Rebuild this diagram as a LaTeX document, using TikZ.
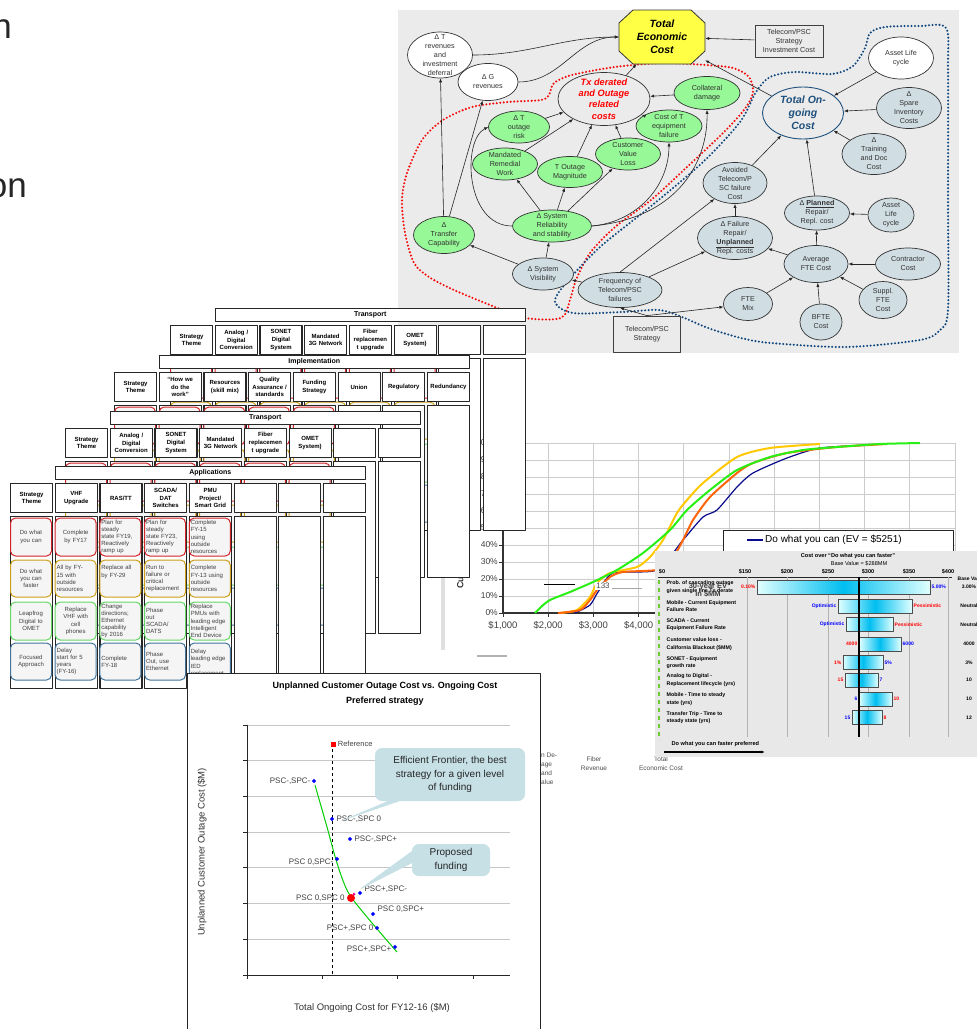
\documentclass[tikz,border=0pt]{standalone}
\usepackage{fontspec}
\setmainfont{Liberation Sans}
\usetikzlibrary{positioning,shapes.geometric,shapes.callouts,arrows.meta}

\definecolor{diagbg}{RGB}{235,235,235}
\definecolor{bubgreen}{RGB}{150,248,150}
\definecolor{bubblue}{RGB}{208,222,228}
\definecolor{octyellow}{RGB}{255,255,70}
\definecolor{ongoblue}{RGB}{30,80,125}
\definecolor{dotblue}{RGB}{15,70,125}
\definecolor{dotred}{RGB}{245,10,10}
\definecolor{rowred}{RGB}{210,35,40}
\definecolor{rowgold}{RGB}{205,158,25}
\definecolor{rowgreen}{RGB}{100,215,100}
\definecolor{rowblue}{RGB}{65,115,155}
\definecolor{callfill}{RGB}{198,224,230}
\definecolor{barcyan}{RGB}{0,190,240}
\definecolor{torgreen}{RGB}{110,200,50}
\definecolor{cdfnavy}{RGB}{10,10,140}
\definecolor{cdforange}{RGB}{255,100,10}
\definecolor{cdfgold}{RGB}{255,200,0}
\definecolor{cdfgreen}{RGB}{40,240,20}

\tikzset{
  bub/.style={ellipse, draw=black!80, line width=0.7pt, inner sep=0pt},
  gbub/.style={bub, fill=bubgreen},
  bbub/.style={bub, fill=bubblue},
  wbub/.style={bub, fill=white},
  bubtxt/.style={align=center, inner sep=0pt, text=black!80,
    font=\fontsize{7.2}{9}\selectfont},
  sqbox/.style={draw=black!75, fill=diagbg, line width=0.8pt, align=center,
    inner sep=1pt, text=black!80, font=\fontsize{7.2}{9}\selectfont},
  arr/.style={-{Latex[length=4pt,width=3.2pt]}, line width=0.6pt, black!85},
  dotline/.style={line width=2.3pt, line cap=round, dash pattern=on 0pt off 3.5pt},
  laybox/.style={draw=black!85, fill=white, line width=1.1pt, inner sep=1pt},
  layhd/.style={font=\fontsize{7}{8}\selectfont\bfseries},
  colhd/.style={minimum width=42pt, minimum height=29pt, text width=40pt,
    align=center, font=\fontsize{6}{7.6}\selectfont\bfseries},
  rowbox/.style={fill=black!4, line width=1pt, rounded corners=5pt},
  celltxt/.style={text width=38pt, inner sep=0pt, text=black!75,
    font=\fontsize{6}{7.2}\selectfont},
  cdfgrid/.style={gray!40, line width=0.8pt},
  cdflbl/.style={inner sep=1pt, text=black!75, font=\fontsize{8.5}{10}\selectfont},
  scpt/.style={diamond, fill=blue, inner sep=0pt, minimum size=4.5pt},
  ptlbl/.style={inner sep=1pt, text=black!75, font=\fontsize{8}{9}\selectfont},
  callbox/.style={rectangle callout, fill=callfill, rounded corners=7pt,
    callout pointer width=12pt, align=center, text=black!85,
    font=\fontsize{10}{13.5}\selectfont},
  tlbl/.style={inner sep=0.5pt, font=\fontsize{5.3}{7.4}\selectfont\bfseries},
  tval/.style={inner sep=0.5pt, font=\fontsize{5}{6}\selectfont\bfseries},
  frag/.style={inner sep=0pt, text=black!70, align=center,
    font=\fontsize{6.5}{9}\selectfont}
}

% ellipse of the cost diagram, text laid on top
\newcommand{\bubble}[7][]{%
  \node[#2, minimum width=#5pt, minimum height=#6pt] (#3) at #4 {};
  \node[bubtxt, #1] (#3-txt) at (#3) {#7};}

% one sheet of the strategy tables: name, left, top, heading, coloured columns, column heads
\newcommand{\stratlayer}[6]{%
  \node[laybox, layhd, minimum width=310.2pt, minimum height=13pt, anchor=north west]
    (#1-hd) at ({#2+44.7},#3) {#4};
  \foreach \lbl [count=\i from 0] in {#6} {
    \node[laybox, colhd, anchor=north west] (#1-c\i) at ({#2+44.7*\i},{#3+17}) {\lbl};
    \node[laybox, minimum width=42pt, minimum height=172pt, anchor=north west]
      (#1-b\i) at ({#2+44.7*\i},{#3+50}) {};
  }
  \foreach \i in {#5} {
    \foreach \rc/\ry/\rh in {rowred/52/38, rowgold/94/37, rowgreen/136/38, rowblue/177/37}
      \draw[rowbox, draw=\rc] ({#2+44.7*\i+0.5},{#3+\ry}) rectangle ++(41,\rh);
  }
}

\newcommand{\celltext}[5]{\node[celltxt, align=#4] (#1) at ({10+44.7*#2+21},#3) {#5};}

\begin{document}
\begin{tikzpicture}[x=1pt, y=-1pt, line join=round]
\useasboundingbox (0,0) rectangle (977,1029);

% slide text cut by the left border
\node[inner sep=0pt, anchor=base east, text=black!85, font=\fontsize{35}{40}\selectfont] (slideA) at (12,38) {n};
\node[inner sep=0pt, anchor=base east, text=black!85, font=\fontsize{35}{40}\selectfont] (slideB) at (27,197) {on};

% cost diagram
\fill[diagbg] (398,10) rectangle (959,353);
\draw[dotline, dotred] plot[smooth cycle, tension=0.5] coordinates {(495,307) (525,318) (561,318) (570,300) (576,280) (590,253) (615,227) (651,200) (687,167) (723,133) (744,110) (753,93) (749,77) (733,68) (705,65) (663,63) (615,67) (572,75) (554,83) (549,95) (541,100) (508,102) (472,107) (443,120) (422,140) (407,173) (402,200) (405,233) (414,263) (429,277) (454,290)};
\draw[dotline, dotblue] plot[smooth cycle, tension=0.5] coordinates {(555,302) (566,283) (600,247) (650,207) (703,162) (740,122) (756,92) (770,77) (795,72) (832,74) (853,66) (865,48) (870,33) (885,27) (920,26) (946,28) (948,70) (948,200) (948,310) (940,330) (920,340) (846,347) (771,343) (741,338) (708,328) (682,317) (659,310) (622,312) (573,313)};

% total economic cost
\filldraw[fill=octyellow, draw=black!80, line width=0.8pt] (633,10) -- (691,10) -- (705,23) -- (705,51) -- (691,64) -- (633,64) -- (619,51) -- (619,23) -- cycle;
\node[minimum width=86pt, minimum height=54pt, inner sep=0pt, align=center, font=\fontsize{10.5}{13}\selectfont\bfseries\itshape] (TEC) at (662,37) {Total\\Economic\\Cost};

\bubble{wbub}{dTrev}{(440,55)}{65}{46}{Δ T\\revenues\\and\\investment\\deferral}
\bubble{wbub}{dGrev}{(488,82)}{60}{37}{Δ G\\revenues}
\node[sqbox, minimum width=68pt, minimum height=32pt] (tele) at (789,41) {Telecom/PSC\\Strategy\\Investment Cost};

% transmission side
\bubble[text=red, font=\fontsize{9.2}{11.2}\selectfont\bfseries\itshape]{bub}{txd}{(604,99)}{92}{53}{Tx derated\\and Outage\\related\\costs}
\bubble{gbub}{coll}{(707,93)}{66}{33}{Collateral\\damage}
\bubble{gbub}{dTout}{(519,127)}{61}{32}{Δ T\\outage\\risk}
\bubble{gbub}{costT}{(669,126)}{66}{32}{Cost of T\\equipment\\failure}
\bubble{gbub}{mand}{(505,164)}{65}{32}{Mandated\\Remedial\\Work}
\bubble{gbub}{tmag}{(570,172)}{65}{31}{T Outage\\Magnitude}
\bubble{gbub}{cvl}{(628,154)}{65}{32}{Customer\\Value\\Loss}
\bubble{gbub}{sysrel}{(552,226)}{79}{32}{Δ System\\Reliability\\and stability}
\bubble{gbub}{trcap}{(444,235)}{61}{37}{Δ\\Transfer\\Capability}
\bubble{bbub}{sysvis}{(543,274)}{61}{32}{Δ System\\Visibility}
\bubble{bbub}{freq}{(620,290)}{84}{35}{Frequency of\\Telecom/PSC\\failures}
\node[sqbox, minimum width=67pt, minimum height=36pt] (strat) at (647,334) {Telecom/PSC\\Strategy};

% on-going side
\bubble{bbub}{ftemix}{(748,304)}{49}{33}{FTE\\Mix}
\bubble{bbub}{bfte}{(821,322)}{42}{36}{BFTE\\Cost}
\bubble{bbub}{suppl}{(883,300)}{48}{37}{Suppl.\\FTE\\Cost}
\bubble{bbub}{contr}{(908,264)}{65}{32}{Contractor\\Cost}
\bubble{bbub}{avgfte}{(816,264)}{64}{37}{Average\\FTE Cost}
\bubble{bbub}{alife2}{(891,215)}{46}{34}{Asset\\Life\\cycle}
\bubble{bbub}{plan}{(817,213)}{65}{34}{Δ \textbf{\underline{Planned}}\\Repair/\\Repl. cost}
\bubble{bbub}{fail}{(735,238)}{75}{43}{Δ Failure\\Repair/\\\textbf{\underline{Unplanned}}\\Repl. costs}
\bubble{bbub}{avoid}{(735,183)}{64}{41}{Avoided\\Telecom/P\\SC failure\\Cost}
\bubble{bbub}{train}{(874,154)}{64}{41}{Δ\\Training\\and Doc\\Cost}
\bubble{bbub}{spare}{(909,108)}{65}{41}{Δ\\Spare\\Inventory\\Costs}
\bubble{wbub}{alife1}{(901,58)}{65}{42}{Asset Life\\cycle}
\bubble[text=ongoblue, font=\fontsize{10.5}{13}\selectfont\bfseries\itshape]{bub, draw=ongoblue, line width=0.9pt}{tog}{(803,113)}{81}{52}{Total On-\\going\\Cost}

% links into the total
\draw[arr] (dTrev.east) to[out=0, in=180] (TEC.west);
\draw[arr] (dGrev.east) to[out=0, in=180] (TEC.west);
\draw[arr] (tele) -- (TEC);
\draw[arr] (tog) -- (TEC);
\draw[arr] (txd) -- (TEC);
\foreach \src in {coll,costT,cvl,tmag,mand,dTout} \draw[arr] (\src) -- (txd);
\foreach \dst in {mand,tmag,cvl} \draw[arr] (sysrel) -- (\dst);
\draw[arr] (sysrel.east) to[out=5, in=-90] (costT.south);
\draw[arr] (sysrel.east) .. controls (680,218) and (708,160) .. (coll.south);
\draw[arr] (sysrel.west) .. controls (465,226) and (462,140) .. (dTout.west);
\draw[arr] (trcap) -- (dTrev);
\draw[arr] (trcap) -- (dGrev);
\draw[arr] (sysvis) -- (trcap);
\draw[arr] (sysvis) -- (sysrel);
\draw[arr] (freq) -- (sysvis);
\draw[arr] (freq.north) -- (avoid);
\draw[arr] (freq) -- (fail);
\draw[arr] (strat.north) -- (freq.south);
\draw[arr] (strat.north) -- (ftemix);
\foreach \src in {ftemix,bfte,suppl,contr} \draw[arr] (\src) -- (avgfte);
\draw[arr] (avgfte) -- (fail);
\draw[arr] (avgfte) -- (plan);
\draw[arr] (alife2) -- (plan);
\draw[arr] (plan) -- (tog);
\draw[arr] (fail) -- (avoid);
\draw[arr] (avoid) -- (tog);
\foreach \src in {train,spare,alife1} \draw[arr] (\src) -- (tog);

% cumulative cost chart
\draw[gray!25, line width=4pt] (443,528) -- (443,650);
\foreach \k in {0,...,10} {
  \draw[cdfgrid] ({503+45.2*\k},443) -- ({503+45.2*\k},613);
  \draw[cdfgrid] (503,{613-17*\k}) -- (955,{613-17*\k});
}
\draw[black!80, line width=1.3pt] (503,443) -- (503,613) -- (955,613);
\foreach \k [evaluate=\k as \p using int(10*\k)] in {0,...,10} {
  \draw[black!80, line width=0.8pt] (499,{613-17*\k}) -- (503,{613-17*\k});
  \node[cdflbl, anchor=east] (cy\k) at (499,{613-17*\k}) {\p\%};
}
\foreach \k [evaluate=\k as \m using int(\k+1)] in {0,...,10} {
  \draw[black!80, line width=0.8pt] ({503+45.2*\k},613) -- ({503+45.2*\k},617);
  \node[cdflbl, anchor=north, font=\fontsize{9.5}{11}\selectfont] (cx\k) at ({503+45.2*\k},620) {\$\m,000};
}
\node[rotate=90, anchor=west, inner sep=0pt, text=black!80, font=\fontsize{9}{10}\selectfont\bfseries] (cytitle) at (461,589) {Cumulative Probability};
\draw[cdfnavy, line width=1.2pt] plot[smooth, tension=0.4] coordinates {(575,613) (590,605) (598,592) (613,573) (657,570) (683,540) (703,517) (717,510) (737,487) (753,473) (787,458) (820,448) (870,445)};
\draw[cdfgold, line width=2pt] plot[smooth, tension=0.4] coordinates {(560,613) (577,610) (590,597) (597,583) (610,573) (637,567) (650,557) (663,540) (677,513) (687,500) (703,483) (737,457) (770,448) (820,444)};
\draw[cdforange, line width=2pt] plot[smooth, tension=0.4] coordinates {(558,613) (580,610) (590,600) (597,590) (610,577) (623,572) (657,570) (670,563) (683,540) (693,520) (710,497) (737,473) (753,463) (787,453) (837,447) (887,444)};
\draw[cdfgreen, line width=2pt] plot[smooth, tension=0.4] coordinates {(535,613) (541,607) (550,600) (570,592) (593,582) (617,570) (643,553) (670,530) (687,510) (710,490) (737,470) (770,457) (803,450) (837,447) (880,444) (920,443)};
\draw[black, line width=1pt] (544,584) -- (575,584);
\draw[gray!70, line width=1pt] (612,588) -- (642,588);
\node[fill=white, inner sep=1pt, text=black!70, font=\fontsize{8}{9}\selectfont] (lbl133) at (603,586) {133};
\draw[gray!60, line width=1.2pt] (477,656) -- (507,656);
% legend
\node[draw=black!85, fill=white, line width=1pt, minimum width=230pt, minimum height=30pt, anchor=north west] (legbox) at (723,530) {};
\draw[cdfnavy, line width=1.2pt] (747,540) -- (763,540);
\node[anchor=west, inner sep=1pt, font=\fontsize{10}{12}\selectfont] (legtxt) at (764,540) {Do what you can (EV = \$5251)};

% strategy tables, back to front
\stratlayer{trA}{170}{308}{Transport}{0,...,5}{Strategy\\Theme, Analog /\\Digital\\Conversion, SONET\\Digital\\System, Mandated\\3G Network, Fiber\\replacemen\\t upgrade, OMET\\System), {}, {}}
\stratlayer{impl}{114}{355}{Implementation}{0,...,4}{Strategy\\Theme, “How we\\do the\\work”, Resources\\(skill mix), Quality\\Assurance /\\standards, Funding\\Strategy, Union, Regulatory, Redundancy}
\stratlayer{trC}{65}{411}{Transport}{0,...,5}{Strategy\\Theme, Analog /\\Digital\\Conversion, SONET\\Digital\\System, Mandated\\3G Network, Fiber\\replacemen\\t upgrade, OMET\\System), {}, {}}
\stratlayer{appl}{10}{466}{Applications}{0,...,4}{Strategy\\Theme, VHF\\Upgrade, RAS/TT, SCADA/\\DAT\\Switches, PMU\\Project/\\Smart Grid, {}, {}, {}}

% front sheet entries
\celltext{ap00}{0}{537}{center}{Do what\\you can}
\celltext{ap01}{0}{578.5}{center}{Do what\\you can\\faster}
\celltext{ap02}{0}{621}{center}{Leapfrog\\Digital to\\OMET}
\celltext{ap03}{0}{661.5}{center}{Focused\\Approach}
\celltext{ap10}{1}{537}{center}{Complete\\by FY17}
\celltext{ap11}{1}{578.5}{left}{All by FY-\\15 with\\outside\\resources}
\celltext{ap12}{1}{621}{center}{Replace\\VHF with\\cell\\phones}
\celltext{ap13}{1}{661.5}{left}{Delay\\start for 5\\years\\(FY-16)}
\celltext{ap20}{2}{537}{left}{Plan for\\steady\\state FY19,\\Reactively\\ramp up}
\celltext{ap21}{2}{572}{left}{Replace all\\by FY-29}
\celltext{ap22}{2}{621}{left}{Change\\directions;\\Ethernet\\capability\\by 2016}
\celltext{ap23}{2}{661.5}{left}{Complete\\FY-18}
\celltext{ap30}{3}{537}{left}{Plan for\\steady\\state FY23,\\Reactively\\ramp up}
\celltext{ap31}{3}{578.5}{left}{Run to\\failure or\\critical\\replacement}
\celltext{ap32}{3}{621}{left}{Phase\\out\\SCADA/\\DATS}
\celltext{ap33}{3}{661.5}{left}{Phase\\Out, use\\Ethernet}
\celltext{ap40}{4}{537}{left}{Complete\\FY-15\\using\\outside\\resources}
\celltext{ap41}{4}{578.5}{left}{Complete\\FY-13 using\\outside\\resources}
\celltext{ap42}{4}{621}{left}{Replace\\PMUs with\\leading edge\\Intelligent\\End Device}
\celltext{ap43}{4}{663}{left}{Delay\\leading edge\\IED\\replacement}

% axis texts of a chart further back
\node[frag, align=left, anchor=north west] (fragA) at (541,753) {n De-\\age\\and\\alue};
\node[frag] (fragB) at (594,764) {Fiber\\Revenue};
\node[frag] (fragC) at (661,764) {Total\\Economic Cost};

% scatter chart
\node[draw=black!85, fill=white, line width=1pt, minimum width=353pt, minimum height=380pt, anchor=north west, inner sep=0pt] (scbox) at (187,673) {};
\node[align=center, font=\fontsize{9}{15}\selectfont\bfseries] (sctitle) at (385,693.5) {Unplanned Customer Outage Cost vs. Ongoing Cost\\Preferred strategy};
\foreach \k in {0,...,6} \draw[gray!45, line width=0.8pt] (247,{725+35.7*\k}) -- (510,{725+35.7*\k});
\draw[black!85, line width=1pt] (247,725) -- (247,975) -- (510,975);
\foreach \k in {0,...,7} \draw[black!85, line width=0.8pt] (243,{725+35.7*\k}) -- (247,{725+35.7*\k});
\foreach \k in {0,...,3} \draw[black!85, line width=0.8pt] ({247+75.3*\k},975) -- ({247+75.3*\k},979);
\draw[dashed, line width=0.8pt] (332,743) -- (332,975);
\draw[green!80!black, line width=1pt] plot[smooth, tension=0.5] coordinates {(315,785) (327,827) (337,863) (348,892) (367,917) (397,952)};
\node[fill=red, inner sep=0pt, minimum size=5pt] (pRef) at (333,744) {};
\node[scpt] (pA) at (314,781) {};
\node[scpt] (pB) at (332,819) {};
\node[scpt] (pC) at (350,839) {};
\node[scpt] (pD) at (337,859) {};
\node[scpt] (pE) at (360,893) {};
\node[circle, fill=red, inner sep=0pt, minimum size=8pt] (pF) at (351,898) {};
\node[circle, fill=magenta, inner sep=0pt, minimum size=3pt] (pFm) at (354,894) {};
\node[scpt] (pG) at (373,914) {};
\node[scpt] (pH) at (377,928) {};
\node[scpt] (pI) at (395,947) {};
\node[ptlbl, right=1pt of pRef, font=\fontsize{7.5}{9}\selectfont] (lRef) {Reference};
\node[ptlbl, left=0pt of pA] (lA) {PSC-,SPC-};
\node[ptlbl, right=1pt of pB] (lB) {PSC-,SPC 0};
\node[ptlbl, right=1pt of pC] (lC) {PSC-,SPC+};
\node[ptlbl, left=0pt of pD, yshift=-3pt] (lD) {PSC 0,SPC-};
\node[ptlbl, right=1pt of pE, yshift=4pt] (lE) {PSC+,SPC-};
\node[ptlbl, left=1pt of pF] (lF) {PSC 0,SPC 0};
\node[ptlbl, right=1pt of pG, yshift=5pt] (lG) {PSC 0,SPC+};
\node[ptlbl, left=0pt of pH] (lH) {PSC+,SPC 0};
\node[ptlbl, left=0pt of pI, yshift=-2pt] (lI) {PSC+,SPC+};
\coordinate (tipEF) at (338,822);
\coordinate (tipPF) at (357,891);
\node[callbox, callout absolute pointer={(tipEF)}, minimum width=150pt, minimum height=53pt] (callEF) at (450,774.5) {Efficient Frontier, the best\\strategy for a given level\\of funding};
\node[callbox, callout absolute pointer={(tipPF)}, minimum width=78pt, minimum height=32pt] (callPF) at (451,860) {Proposed\\funding};
\node[rotate=90, text=black!80, font=\fontsize{9.5}{11}\selectfont] (scy) at (202,852) {Unplanned Customer Outage Cost (\$M)};
\node[text=black!80, font=\fontsize{9.5}{11}\selectfont] (scx) at (372,1008) {Total Ongoing Cost for FY12-16 (\$M)};

% tornado chart
\fill[black!9] (655,551) rectangle (977,757);
\node[tval, font=\fontsize{5.6}{7}\selectfont\bfseries] (tortitle) at (848,556) {Cost over “Do what you can faster”};
\node[tval, font=\fontsize{5.6}{7}\selectfont] (torbase) at (859,563.5) {Base Value = \$288MM};
\foreach \xx/\val [count=\n] in {662/\$0, 745/\$150, 787/\$200, 828/\$250, 868/\$300, 909/\$350, 948/\$400}
  \node[tval, font=\fontsize{5.6}{7}\selectfont\bfseries] (tax\n) at (\xx,571.5) {\val};
\draw[black!85, line width=0.8pt] (658,577) -- (952,577);
\foreach \xx in {747,787,828,868,909,948} \draw[gray!60, line width=1pt] (\xx,577) -- (\xx,737);
\draw[torgreen, line width=1.6pt, dash pattern=on 4pt off 4pt] (659,580) -- (659,740);
\node[tval, anchor=west] (tbhd) at (957,578.5) {Base Val};
\foreach \yy/\xa/\xb/\ltx/\lcol/\rtx/\rcol/\bval [count=\n] in {
  587/757/930/0.10\%/red/5.00\%/blue/3.00\%,
  606/838/912/Optimistic/blue/Pessimistic/red/Neutral,
  624.5/846/893/Optimistic/blue/Pessimistic/red/Neutral,
  644/859/901/4000/red/6000/blue/4000,
  662.5/843/883/1\%/red/5\%/blue/3\%,
  680/845/878/15/red/7/blue/10,
  699/859/892/6/blue/10/red/10,
  717.5/852/882/15/blue/8/red/12} {
  \shade[left color=cyan!12, right color=cyan!12, middle color=barcyan] (\xa,\yy-7) rectangle (\xb,\yy+7);
  \draw[black!70, line width=1pt] (\xa,\yy-7) rectangle (\xb,\yy+7);
  \node[tval, text=\lcol, anchor=east] (tl\n) at (\xa-1,\yy) {\ltx};
  \node[tval, text=\rcol, anchor=west] (tr\n) at (\xb+1,\yy) {\rtx};
  \node[tval] (tb\n) at (969,\yy) {\bval};
}
\draw[black, line width=1.1pt] (859,577) -- (859,737);
\foreach \yy/\txt [count=\n] in {587/{Prob. of cascading outage\\given single line Tx derate}, 606/{Mobile - Current Equipment\\Failure Rate}, 624.5/{SCADA - Current\\Equipment Failure Rate}, 644/{Customer value loss -\\California Blackout (\$MM)}, 662.5/{SONET - Equipment\\growth rate}, 680/{Analog to Digital -\\Replacement lifecycle (yrs)}, 699/{Mobile - Time to steady\\state (yrs)}, 717.5/{Transfer Trip - Time to\\steady state (yrs)}}
  \node[tlbl, align=left, anchor=west] (trow\n) at (666,\yy) {\txt};
\node[inner sep=0pt, align=center, text=black!75, font=\fontsize{7.5}{8}\selectfont\bfseries] (torover) at (708,590) {30-year EV\\in \$MM};
\node[tval, font=\fontsize{5.6}{7}\selectfont\bfseries, anchor=west] (torpref) at (671,744) {Do what you can faster preferred};
\coordinate (prefA) at (664,752);
\coordinate (prefB) at (765,752);
\draw[-{Latex[length=4pt,width=3pt]}, line width=1.2pt] (prefA) -- (prefB);
\end{tikzpicture}
\end{document}
